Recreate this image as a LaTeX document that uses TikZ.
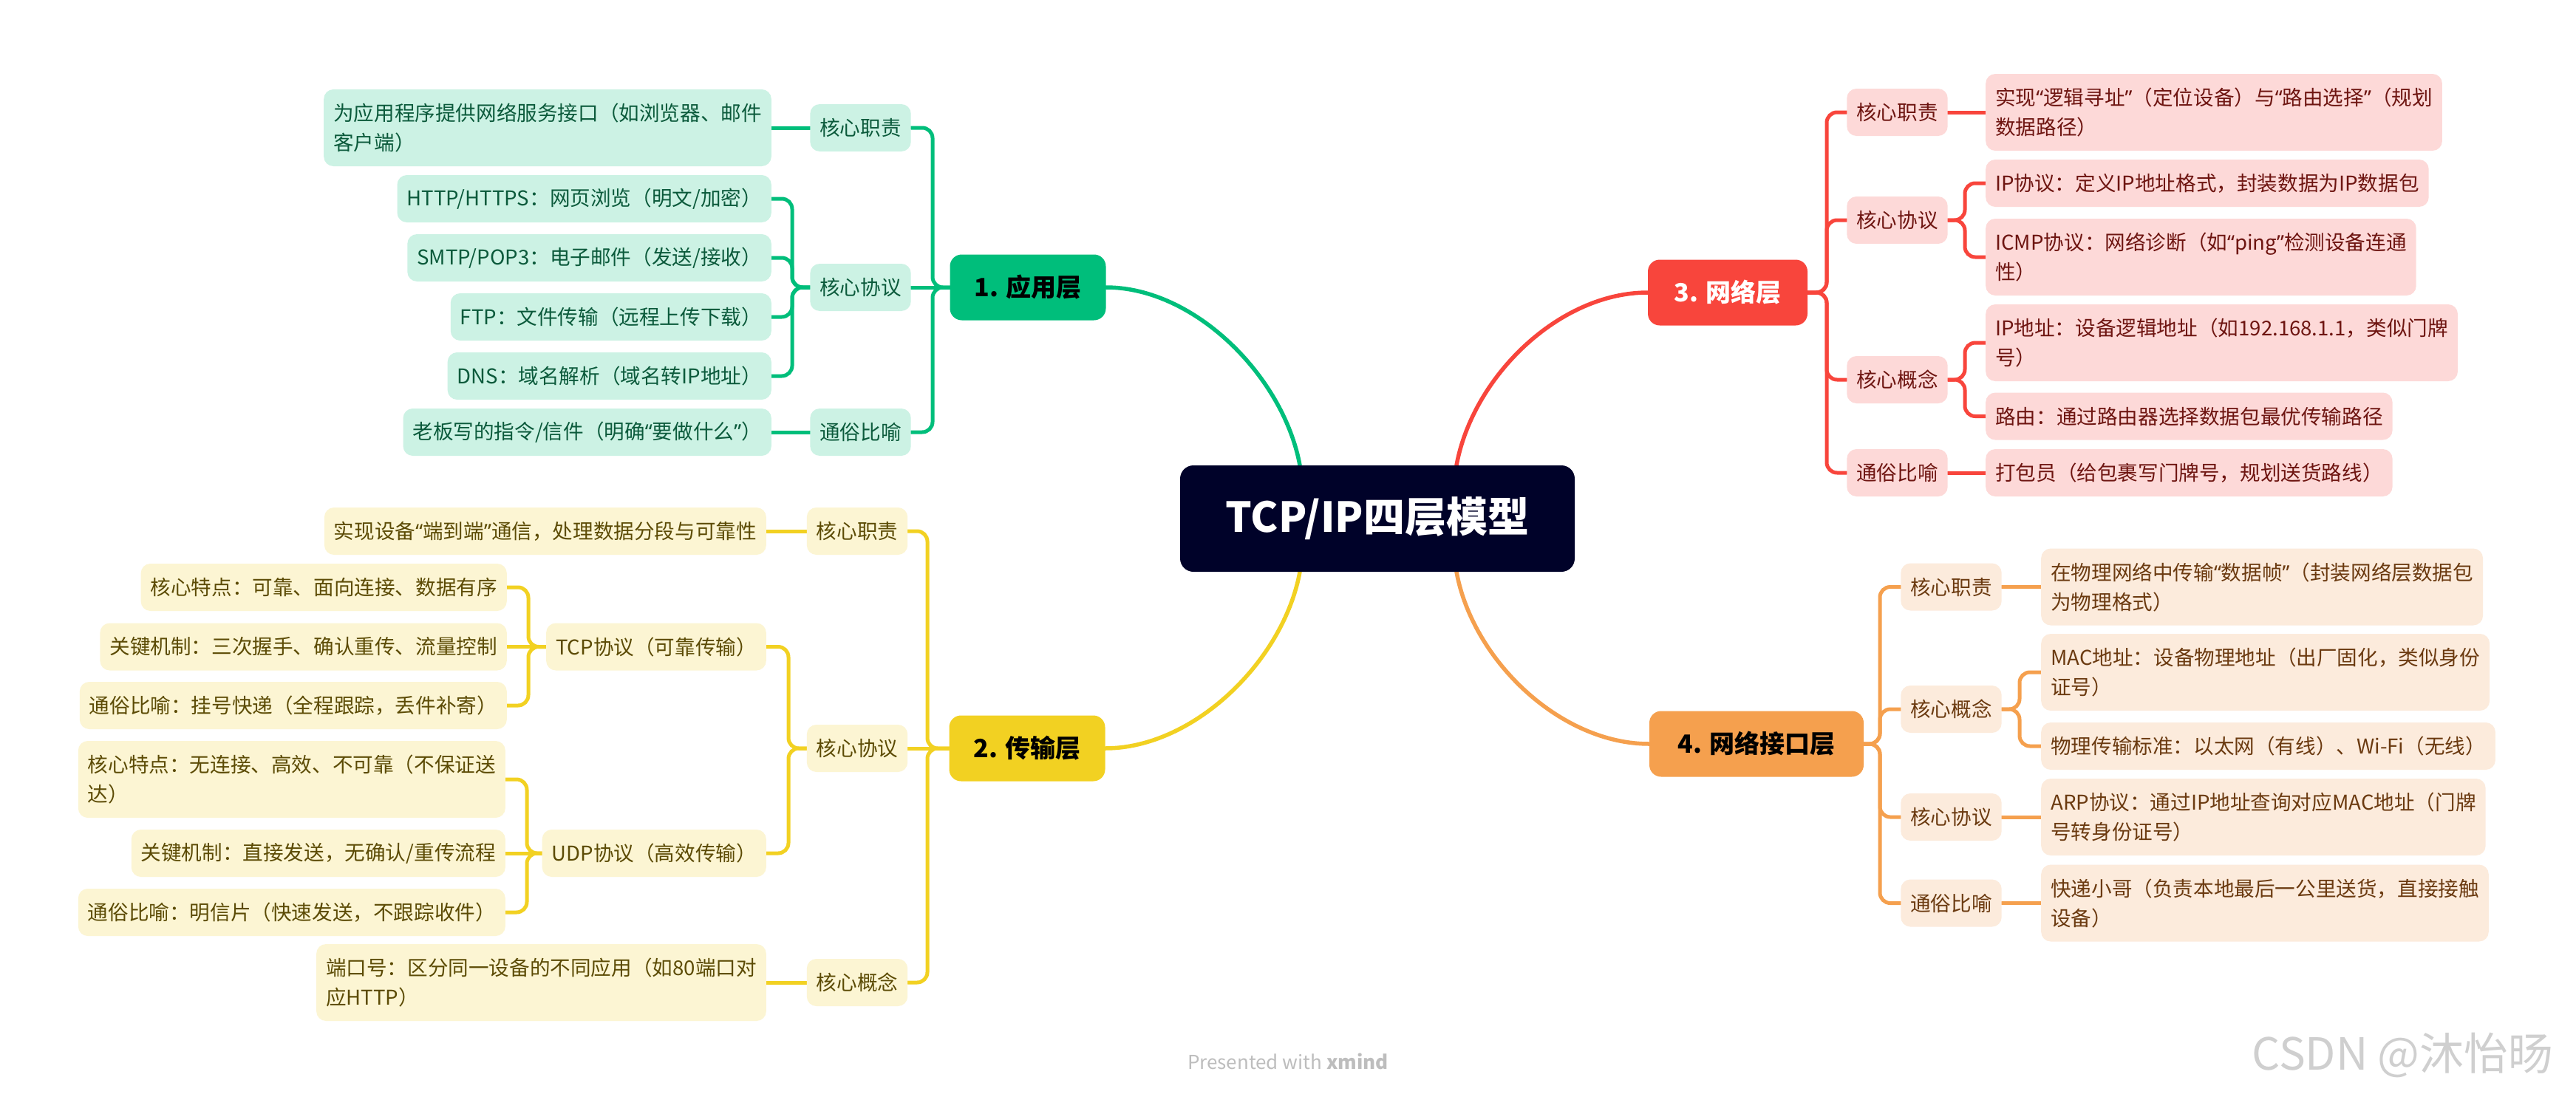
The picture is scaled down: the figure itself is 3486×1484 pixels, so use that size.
\documentclass[tikz,border=0pt]{standalone}
\usepackage{fontspec}
\setmainfont{Noto Sans CJK SC}
\newfontfamily\qfont{Noto Sans}
\newcommand\qopen{{\qfont “}}
\newcommand\qclose{{\qfont ”}}
\usetikzlibrary{backgrounds,calc}
\definecolor{gM}{HTML}{00BE7B}
\definecolor{gL}{HTML}{CCF2E4}
\definecolor{gT}{HTML}{0B5A3B}
\definecolor{yM}{HTML}{F2D122}
\definecolor{yL}{HTML}{FCF5D3}
\definecolor{yT}{HTML}{5C4B05}
\definecolor{rM}{HTML}{F8453C}
\definecolor{rL}{HTML}{FDD9D8}
\definecolor{rT}{HTML}{6E1511}
\definecolor{oM}{HTML}{F5A04E}
\definecolor{oL}{HTML}{FCEBDC}
\definecolor{oT}{HTML}{6B3A10}
\definecolor{rootc}{HTML}{000229}
\definecolor{ftc}{HTML}{BDBDBD}
\definecolor{wmc}{HTML}{CFCFCF}
\tikzset{
  box/.style={rounded corners=13pt, inner xsep=13pt, inner ysep=0pt, minimum height=64pt,
    align=left, font=\fontsize{27.6}{40}\selectfont},
  two/.style={minimum height=104pt},
  gbox/.style={box, fill=gL, text=gT},
  ybox/.style={box, fill=yL, text=yT},
  rbox/.style={box, fill=rL, text=rT},
  obox/.style={box, fill=oL, text=oT},
  title/.style={rounded corners=16pt, minimum height=89pt, inner xsep=10pt,
    font=\fontsize{34}{40}\selectfont\bfseries},
  rootbox/.style={rounded corners=18pt, fill=rootc, text=white, minimum width=534pt,
    minimum height=144pt, font=\fontsize{56}{60}\selectfont\bfseries},
  conn/.style={line width=5pt, rounded corners=14pt, line cap=round},
  gl/.style={conn, draw=gM}, yl/.style={conn, draw=yM},
  rl/.style={conn, draw=rM}, ol/.style={conn, draw=oM},
  mainc/.style={line width=5.5pt, line cap=round},
}
\begin{document}
\begin{tikzpicture}[x=1pt,y=-1pt]
\useasboundingbox (0,0) rectangle (3486,1484);
% root and layers
\node[rootbox] (R) at (1864,702) {TCP/IP四层模型};
\node[title, fill=gM, text=black, minimum width=211pt] (L1) at (1391,389) {1. 应用层};
\node[title, fill=yM, text=black, minimum width=211pt] (L2) at (1390,1013) {2. 传输层};
\node[title, fill=rM, text=white, minimum width=216pt] (L3) at (2338,396) {3. 网络层};
\node[title, fill=oM, text=black, minimum width=290pt] (L4) at (2377,1007) {4. 网络接口层};
% trunk coordinates
\coordinate (ta) at (1262,0);
\coordinate (tb) at (1072,0);
\coordinate (tc) at (1255,0);
\coordinate (td) at (1067,0);
\coordinate (te) at (715,0);
\coordinate (tf) at (713,0);
\coordinate (tg) at (2472,0);
\coordinate (th) at (2659,0);
\coordinate (ti) at (2544,0);
\coordinate (tj) at (2733,0);
% ---- application layer
\node[gbox] (A1) at (1164.5,173) {核心职责};
\node[gbox] (A2) at (1164.5,389) {核心协议};
\node[gbox] (A3) at (1164.5,585) {通俗比喻};
\node[gbox, two, anchor=east] (A1a) at (1044,173) {为应用程序提供网络服务接口（如浏览器、邮件\\客户端）};
\node[gbox, anchor=east] (A2a) at (1044,269) {HTTP/HTTPS：网页浏览（明文/加密）};
\node[gbox, anchor=east] (A2b) at (1044,349) {SMTP/POP3：电子邮件（发送/接收）};
\node[gbox, anchor=east] (A2c) at (1044,429) {FTP：文件传输（远程上传下载）};
\node[gbox, anchor=east] (A2d) at (1044,509) {DNS：域名解析（域名转IP地址）};
\node[gbox, anchor=east] (A3a) at (1044,585) {老板写的指令/信件（明确\qopen 要做什么\qclose）};
% ---- transport layer
\node[ybox] (T1) at (1160,719) {核心职责};
\node[ybox] (T2) at (1160,1013) {核心协议};
\node[ybox] (T3) at (1160,1330) {核心概念};
\node[ybox, anchor=east] (T1a) at (1037,719) {实现设备\qopen 端到端\qclose 通信，处理数据分段与可靠性};
\node[ybox, anchor=east] (T2a) at (1037,875.5) {TCP协议（可靠传输）};
\node[ybox, anchor=east] (T2b) at (1037,1155) {UDP协议（高效传输）};
\node[ybox, anchor=east] (T2a1) at (686,795) {核心特点：可靠、面向连接、数据有序};
\node[ybox, anchor=east] (T2a2) at (686,875.5) {关键机制：三次握手、确认重传、流量控制};
\node[ybox, anchor=east] (T2a3) at (686,955) {通俗比喻：挂号快递（全程跟踪，丢件补寄）};
\node[ybox, two, anchor=east] (T2b1) at (684,1055) {核心特点：无连接、高效、不可靠（不保证送\\达）};
\node[ybox, anchor=east] (T2b2) at (684,1155) {关键机制：直接发送，无确认/重传流程};
\node[ybox, anchor=east] (T2b3) at (684,1235) {通俗比喻：明信片（快速发送，不跟踪收件）};
\node[ybox, two, anchor=east] (T3a) at (1037,1330) {端口号：区分同一设备的不同应用（如80端口对\\应HTTP）};
% ---- network layer
\node[rbox] (N1) at (2567.5,152) {核心职责};
\node[rbox] (N2) at (2567.5,298) {核心协议};
\node[rbox] (N3) at (2567.5,514) {核心概念};
\node[rbox] (N4) at (2567.5,640) {通俗比喻};
\node[rbox, two, anchor=west] (N1a) at (2687,152) {实现\qopen 逻辑寻址\qclose（定位设备）与\qopen 路由选择\qclose（规划\\数据路径）};
\node[rbox, anchor=west] (N2a) at (2687,248) {IP协议：定义IP地址格式，封装数据为IP数据包};
\node[rbox, two, anchor=west] (N2b) at (2687,348) {ICMP协议：网络诊断（如\qopen ping\qclose 检测设备连通\\性）};
\node[rbox, two, anchor=west] (N3a) at (2687,464) {IP地址：设备逻辑地址（如192.168.1.1，类似门牌\\号）};
\node[rbox, anchor=west] (N3b) at (2687,563.5) {路由：通过路由器选择数据包最优传输路径};
\node[rbox, anchor=west] (N4a) at (2687,640) {打包员（给包裹写门牌号，规划送货路线）};
% ---- network interface layer
\node[obox] (K1) at (2640.5,794.5) {核心职责};
\node[obox] (K2) at (2640.5,960) {核心概念};
\node[obox] (K3) at (2640.5,1106) {核心协议};
\node[obox] (K4) at (2640.5,1222.5) {通俗比喻};
\node[obox, two, anchor=west] (K1a) at (2762,794.5) {在物理网络中传输\qopen 数据帧\qclose（封装网络层数据包\\为物理格式）};
\node[obox, two, anchor=west] (K2a) at (2762,910) {MAC地址：设备物理地址（出厂固化，类似身份\\证号）};
\node[obox, anchor=west] (K2b) at (2762,1010) {物理传输标准：以太网（有线）、Wi-Fi（无线）};
\node[obox, two, anchor=west] (K3a) at (2762,1106) {ARP协议：通过IP地址查询对应MAC地址（门牌\\号转身份证号）};
\node[obox, two, anchor=west] (K4a) at (2762,1222.5) {快递小哥（负责本地最后一公里送货，直接接触\\设备）};
% footer
\node[font=\fontsize{26}{30}\selectfont, text=ftc] (F) at (1743,1437) {Presented with \textbf{xmind}};
\node[font=\fontsize{60}{70}\selectfont, text=wmc] (W) at (3251,1428) {CSDN @沐怡旸};
% ---- connectors
\begin{scope}[on background layer]
\fill[white] (0,0) rectangle (3486,1484);
\draw[mainc, draw=gM] ([xshift=-105pt]R.north) .. controls +(-22,-120) and +(120,0) .. (L1.east);
\draw[mainc, draw=rM] ([xshift=107pt]R.north) .. controls +(22,-120) and +(-120,0) .. (L3.west);
\draw[mainc, draw=yM] ([xshift=-105pt]R.south) .. controls +(-22,120) and +(120,0) .. (L2.east);
\draw[mainc, draw=oM] ([xshift=107pt]R.south) .. controls +(22,120) and +(-120,0) .. (L4.west);
% application
\draw[gl] (L1.west) -- (A2.east);
\draw[gl] (L1.west) -- (L1.west -| ta) |- (A1.east);
\draw[gl] (L1.west) -- (L1.west -| ta) |- (A3.east);
\draw[gl] (A1.west) -- (A1a.east);
\draw[gl] (A3.west) -- (A3a.east);
\draw[gl] (A2.west) -- (A2.west -| tb) |- (A2a.east);
\draw[gl] (A2.west) -- (A2.west -| tb) |- (A2b.east);
\draw[gl] (A2.west) -- (A2.west -| tb) |- (A2c.east);
\draw[gl] (A2.west) -- (A2.west -| tb) |- (A2d.east);
% transport
\draw[yl] (L2.west) -- (T2.east);
\draw[yl] (L2.west) -- (L2.west -| tc) |- (T1.east);
\draw[yl] (L2.west) -- (L2.west -| tc) |- (T3.east);
\draw[yl] (T1.west) -- (T1a.east);
\draw[yl] (T3.west) -- (T3a.east);
\draw[yl] (T2.west) -- (T2.west -| td) |- (T2a.east);
\draw[yl] (T2.west) -- (T2.west -| td) |- (T2b.east);
\draw[yl] (T2a.west) -- (T2a2.east);
\draw[yl] (T2a.west) -- (T2a.west -| te) |- (T2a1.east);
\draw[yl] (T2a.west) -- (T2a.west -| te) |- (T2a3.east);
\draw[yl] (T2b.west) -- (T2b2.east);
\draw[yl] (T2b.west) -- (T2b.west -| tf) |- (T2b1.east);
\draw[yl] (T2b.west) -- (T2b.west -| tf) |- (T2b3.east);
% network
\draw[rl] (L3.east) -- (L3.east -| tg) |- (N1.west);
\draw[rl] (L3.east) -- (L3.east -| tg) |- (N2.west);
\draw[rl] (L3.east) -- (L3.east -| tg) |- (N3.west);
\draw[rl] (L3.east) -- (L3.east -| tg) |- (N4.west);
\draw[rl] (N1.east) -- (N1a.west);
\draw[rl] (N4.east) -- (N4a.west);
\draw[rl] (N2.east) -- (N2.east -| th) |- (N2a.west);
\draw[rl] (N2.east) -- (N2.east -| th) |- (N2b.west);
\draw[rl] (N3.east) -- (N3.east -| th) |- (N3a.west);
\draw[rl] (N3.east) -- (N3.east -| th) |- (N3b.west);
% network interface
\draw[ol] (L4.east) -- (L4.east -| ti) |- (K1.west);
\draw[ol] (L4.east) -- (L4.east -| ti) |- (K2.west);
\draw[ol] (L4.east) -- (L4.east -| ti) |- (K3.west);
\draw[ol] (L4.east) -- (L4.east -| ti) |- (K4.west);
\draw[ol] (K1.east) -- (K1a.west);
\draw[ol] (K3.east) -- (K3a.west);
\draw[ol] (K4.east) -- (K4a.west);
\draw[ol] (K2.east) -- (K2.east -| tj) |- (K2a.west);
\draw[ol] (K2.east) -- (K2.east -| tj) |- (K2b.west);
\end{scope}
\end{tikzpicture}
\end{document}
